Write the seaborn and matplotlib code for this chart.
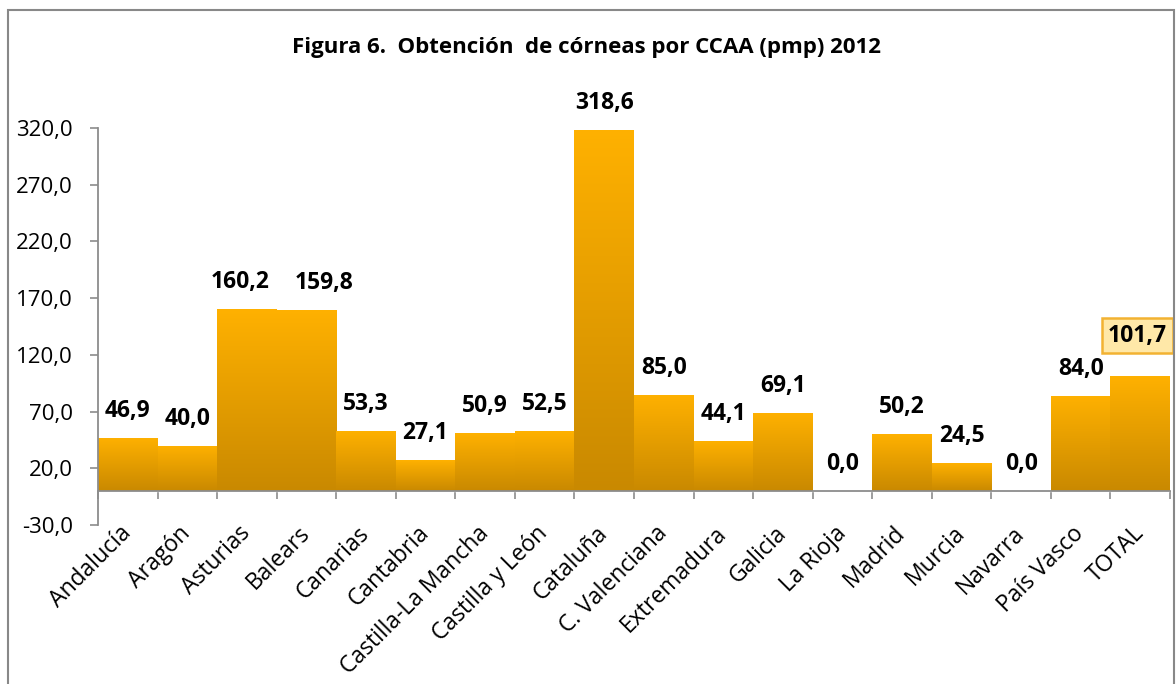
import numpy as np
import pandas as pd
import matplotlib
matplotlib.use("Agg")
import matplotlib.pyplot as plt
import seaborn as sns
from matplotlib.colors import LinearSegmentedColormap
from matplotlib.patches import Rectangle
from matplotlib.ticker import FixedLocator

# Data (pmp, 2012)
regiones = ["Andalucía", "Aragón", "Asturias", "Balears", "Canarias", "Cantabria",
            "Castilla-La Mancha", "Castilla y León", "Cataluña", "C. Valenciana",
            "Extremadura", "Galicia", "La Rioja", "Madrid", "Murcia", "Navarra",
            "País Vasco", "TOTAL"]
valores = [46.9, 40.0, 160.2, 159.8, 53.3, 27.1, 50.9, 52.5, 318.6, 85.0,
           44.1, 69.1, 0.0, 50.2, 24.5, 0.0, 84.0, 101.7]
yticks = [-30, 20, 70, 120, 170, 220, 270, 320]

sns.set_style("white")
plt.rcParams['font.family'] = ['Open Sans', 'DejaVu Sans']
plt.rcParams['text.color'] = 'black'
plt.rcParams['xtick.labelcolor'] = 'black'
plt.rcParams['ytick.labelcolor'] = 'black'

df = pd.DataFrame({"region": regiones, "valor": valores})

fig = plt.figure(figsize=(11.76, 6.84), dpi=100)
ax = fig.add_axes([98 / 1176, 1 - 525 / 684, (1170 - 98) / 1176, (525 - 128) / 684])

sns.barplot(data=df, x="region", y="valor", color="#F5A800", width=1.0,
            saturation=1, ax=ax, zorder=2)

# Excel-like vertical gradient on each bar
cmap = LinearSegmentedColormap.from_list("bar", ["#C98900", "#FFB100"])
grad = np.linspace(0, 1, 256).reshape(-1, 1)
for p in ax.patches:
    x0, y0 = p.get_x(), p.get_y()
    w, h = p.get_width(), p.get_height()
    if h <= 0:
        continue
    im = ax.imshow(grad, cmap=cmap, origin="lower", aspect="auto",
                   extent=[x0, x0 + w, y0, y0 + h], zorder=2.5)
    im.set_clip_path(p)
ax.set_xlim(-0.5, len(regiones) - 0.5)
ax.set_ylim(-30, 320)

# value labels (two were nudged apart in the original)
nudge = {"Asturias": -7, "Balears": 18}
for i, v in enumerate(valores):
    txt = f"{v:.1f}".replace(".", ",")
    dx = nudge.get(regiones[i], 0)
    if regiones[i] == "TOTAL":
        ax.annotate(txt, (i, v), xytext=(-3, 40), textcoords="offset pixels",
                    ha="center", va="center", fontsize=16.5, fontweight="bold",
                    bbox=dict(boxstyle="square,pad=0.25", fc="#FFE8A8",
                              ec="#F2B232", lw=1.8), zorder=5)
    else:
        ax.annotate(txt, (i, v), xytext=(dx, 27), textcoords="offset pixels",
                    ha="center", va="center", fontsize=16.5, fontweight="bold",
                    zorder=5)

# axes styling
for s in ["top", "right"]:
    ax.spines[s].set_visible(False)
ax.spines["left"].set_color("#8C8C8C")
ax.spines["left"].set_linewidth(1.3)
ax.spines["bottom"].set_position(("data", 0))
ax.spines["bottom"].set_color("#8C8C8C")
ax.spines["bottom"].set_linewidth(1.3)
ax.spines["bottom"].set_zorder(3)

ax.set_yticks(yticks)
ax.set_yticklabels([f"{t:.1f}".replace(".", ",") for t in yticks], fontsize=16)
ax.tick_params(axis="y", direction="out", length=6, width=1.2, color="#8C8C8C",
               pad=12, left=True)

ax.xaxis.set_minor_locator(FixedLocator(np.arange(-0.5, len(regiones), 1.0)))
ax.tick_params(axis="x", which="minor", direction="out", length=6, width=1.2,
               color="#8C8C8C", bottom=True)
ax.tick_params(axis="x", which="major", length=0, pad=28)
plt.setp(ax.get_xticklabels(), rotation=45, ha="right", va="center",
         rotation_mode="anchor", fontsize=16.5)
ax.set_xlabel("")
ax.set_ylabel("")

fig.text(586 / 1176, 1 - 47 / 684,
         "Figura 6.  Obtención  de córneas por CCAA (pmp) 2012",
         ha="center", va="center", fontsize=16, fontweight="bold")

# chart border
fig.patches.append(Rectangle((8 / 1176, -0.02), 1166 / 1176, 1.02 - 10 / 684,
                             transform=fig.transFigure, fill=False,
                             ec="#888888", lw=1.5))

fig.savefig("out.png", dpi=100)
